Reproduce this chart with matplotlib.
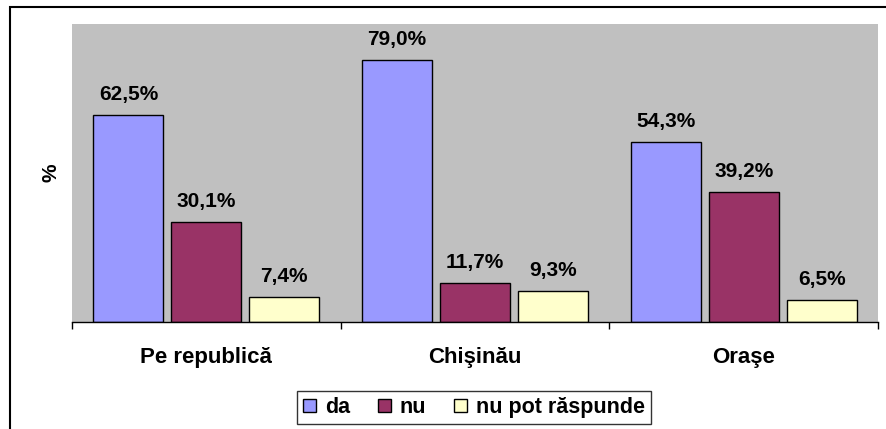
import numpy as np
import matplotlib.pyplot as plt
from matplotlib.patches import Rectangle

# data
categories = ["Pe republică", "Chişinău", "Oraşe"]
series_names = ["da", "nu", "nu pot răspunde"]
da = [62.5, 79.0, 54.3]
nu = [30.1, 11.7, 39.2]
nu_pot = [7.4, 9.3, 6.5]

COLORS = ["#9999FF", "#993366", "#FFFFCC"]
FONT = "Liberation Sans"
W, H = 887, 429

fig = plt.figure(figsize=(W / 100, H / 100), dpi=100)
ax = fig.add_axes([72 / W, 1 - 322 / H, (878 - 72) / W, (322 - 24) / H])
ax.set_facecolor("#C0C0C0")

x = np.arange(len(categories))
step = 0.29
width = 0.26
for i, (name, vals) in enumerate(zip(series_names, [da, nu, nu_pot])):
    pos = x + (i - 1) * step
    bars = ax.bar(pos, vals, width=width, color=COLORS[i], edgecolor="black",
                  linewidth=1.0, label=name, zorder=2)
    for b, v in zip(bars, vals):
        ax.text(b.get_x() + b.get_width() / 2, v + 3.4,
                f"{v:.1f}%".replace(".", ","), ha="center", va="bottom",
                fontsize=15, fontweight="bold", family=FONT)

ax.set_xlim(-0.5, 2.5)
ax.set_ylim(0, 90)
ax.set_yticks([])
ax.set_xticks(x)
ax.set_xticklabels(categories, fontsize=16, fontweight="bold", family=FONT)
ax.tick_params(axis="x", which="major", length=0, pad=18)
ax.set_xticks([-0.5, 0.5, 1.5, 2.5], minor=True)
ax.tick_params(axis="x", which="minor", length=5, width=1, direction="out")
for s in ["top", "right", "left"]:
    ax.spines[s].set_visible(False)
ax.spines["bottom"].set_linewidth(1.0)

ax.set_ylabel("%", fontsize=15, fontweight="bold", family=FONT, labelpad=8)

leg = fig.legend(loc="center", bbox_to_anchor=(474 / W, 1 - 407.5 / H), ncol=3,
                 prop={"family": FONT, "weight": "bold", "size": 15.5},
                 frameon=True, fancybox=False, edgecolor="black",
                 handlelength=0.6, handleheight=0.6, handletextpad=0.4,
                 columnspacing=1.3, borderpad=0.3)
leg.get_frame().set_linewidth(1.0)

# outer chart frame (partly clipped at right / bottom in the reference)
fig.add_artist(Rectangle((10 / W, -0.1), 1.0, 1 - 7 / H + 0.1,
                         transform=fig.transFigure, fill=False,
                         edgecolor="black", linewidth=1.5))

fig.savefig("out.png", dpi=100)
